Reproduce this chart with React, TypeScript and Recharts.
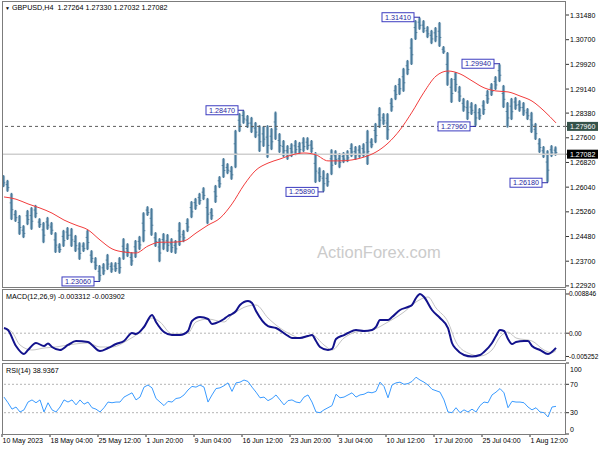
import React from 'react';
import { ComposedChart, Bar, Line, XAxis, YAxis, ReferenceLine, ReferenceDot } from 'recharts';

const FONT = '"Liberation Sans", Arial, sans-serif';

// ---- price bars (H4, one entry per visible column) ----
const highs = [
  1.2642, 1.2627, 1.2586, 1.2532, 1.2516, 1.2484, 1.2532, 1.2541, 1.2548, 1.2506,
  1.2494, 1.2510, 1.2494, 1.2462, 1.2427, 1.2469, 1.2478, 1.2475, 1.2453, 1.2430,
  1.2430, 1.2469, 1.2405, 1.2383, 1.2358, 1.2364, 1.2393, 1.2367, 1.2367, 1.2383,
  1.2443, 1.2427, 1.2399, 1.2437, 1.2450, 1.2525, 1.2544, 1.2538, 1.2462, 1.2443,
  1.2459, 1.2456, 1.2443, 1.2437, 1.2494, 1.2469, 1.2506, 1.2560, 1.2570, 1.2586,
  1.2604, 1.2570, 1.2538, 1.2611, 1.2639, 1.2696, 1.2680, 1.2671, 1.2785, 1.2838,
  1.2847, 1.2832, 1.2826, 1.2810, 1.2800, 1.2797, 1.2800, 1.2791, 1.2843, 1.2775,
  1.2753, 1.2737, 1.2743, 1.2753, 1.2747, 1.2762, 1.2762, 1.2753, 1.2715, 1.2667,
  1.2658, 1.2649, 1.2724, 1.2721, 1.2712, 1.2715, 1.2721, 1.2743, 1.2734, 1.2737,
  1.2743, 1.2785, 1.2759, 1.2807, 1.2857, 1.2838, 1.2838, 1.2886, 1.2927, 1.2949,
  1.2981, 1.3006, 1.3075, 1.3132, 1.3141, 1.3132, 1.3113, 1.3101, 1.3110, 1.3126,
  1.3050, 1.3031, 1.2949, 1.2968, 1.2924, 1.2886, 1.2879, 1.2873, 1.2867, 1.2854,
  1.2879, 1.2911, 1.2933, 1.2955, 1.2994, 1.2927, 1.2873, 1.2886, 1.2889, 1.2879,
  1.2873, 1.2854, 1.2842, 1.2807, 1.2759, 1.2734, 1.2721, 1.2737, 1.2733,
];
const lows = [
  1.2604, 1.2589, 1.2500, 1.2494, 1.2453, 1.2443, 1.2484, 1.2469, 1.2506, 1.2475,
  1.2427, 1.2469, 1.2453, 1.2396, 1.2396, 1.2415, 1.2437, 1.2415, 1.2399, 1.2374,
  1.2399, 1.2405, 1.2364, 1.2342, 1.2306, 1.2326, 1.2342, 1.2333, 1.2336, 1.2330,
  1.2374, 1.2383, 1.2355, 1.2380, 1.2405, 1.2430, 1.2513, 1.2450, 1.2415, 1.2367,
  1.2405, 1.2399, 1.2396, 1.2393, 1.2418, 1.2430, 1.2462, 1.2506, 1.2532, 1.2548,
  1.2563, 1.2487, 1.2500, 1.2554, 1.2601, 1.2633, 1.2645, 1.2627, 1.2664, 1.2778,
  1.2804, 1.2791, 1.2775, 1.2759, 1.2715, 1.2731, 1.2696, 1.2721, 1.2753, 1.2712,
  1.2699, 1.2690, 1.2699, 1.2705, 1.2709, 1.2715, 1.2721, 1.2712, 1.2617, 1.2620,
  1.2589, 1.2605, 1.2642, 1.2674, 1.2664, 1.2680, 1.2683, 1.2699, 1.2690, 1.2696,
  1.2699, 1.2674, 1.2727, 1.2743, 1.2791, 1.2800, 1.2753, 1.2842, 1.2879, 1.2895,
  1.2905, 1.2958, 1.2990, 1.3069, 1.3101, 1.3091, 1.3075, 1.3056, 1.3062, 1.3047,
  1.3025, 1.2924, 1.2870, 1.2905, 1.2873, 1.2842, 1.2816, 1.2832, 1.2796, 1.2816,
  1.2832, 1.2867, 1.2892, 1.2911, 1.2936, 1.2854, 1.2792, 1.2816, 1.2848, 1.2842,
  1.2829, 1.2816, 1.2775, 1.2753, 1.2712, 1.2696, 1.2618, 1.2699, 1.2703,
];

// ---- moving average (read every 3rd bar) ----
const maIdx = [0, 3, 6, 9, 12, 15, 18, 21, 24, 27, 30, 33, 36, 39, 42, 45, 48, 51, 54, 57, 60, 63, 66, 69, 72, 75, 78, 81, 84, 87, 90, 93, 96, 99, 102, 105, 108, 111, 114, 117, 120, 123, 126, 129, 132, 135, 138];
const maVals = [
  1.2573, 1.2566, 1.2551, 1.2538, 1.2522, 1.2500, 1.2484, 1.2469, 1.2437, 1.2409,
  1.2399, 1.2396, 1.2418, 1.2430, 1.2430, 1.2434, 1.2459, 1.2484, 1.2506, 1.2551,
  1.2611, 1.2658, 1.2680, 1.2693, 1.2706, 1.2712, 1.2706, 1.2687, 1.2687, 1.2690,
  1.2699, 1.2715, 1.2743, 1.2785, 1.2841, 1.2904, 1.2955, 1.2971, 1.2962, 1.2940,
  1.2918, 1.2908, 1.2905, 1.2892, 1.2876, 1.2845, 1.2807,
];

// ---- MACD main / signal ----
const macdIdx = [0, 1, 3, 5, 6, 8, 10, 11, 12, 14, 16, 18, 21, 22, 24, 26, 28, 30, 32, 33, 35, 37, 38, 40, 42, 44, 46, 47, 49, 51, 52, 53, 55, 56, 57, 58, 59, 61, 62, 63, 66, 68, 71, 72, 74, 76, 77, 78, 79, 81, 82, 83, 85, 86, 88, 90, 92, 93, 94, 96, 97, 99, 101, 102, 103, 104, 105, 107, 109, 111, 112, 113, 115, 117, 119, 120, 122, 123, 124, 125, 126, 127, 128, 130, 131, 132, 134, 136, 137, 138];
const macdVals = [
  0.00117, 0.00072, -0.00289, -0.00469, -0.00379, -0.00221, -0.00289, -0.00232, -0.00311, -0.00379,
  -0.00266, -0.00176, -0.00199, -0.00266, -0.00402, -0.00334, -0.00244, -0.00176, 0.00005, -0.00018,
  0.00140, 0.00411, 0.00253, 0.00027, -0.00041, -0.00041, 0.00050, 0.00275, 0.00365, 0.00320,
  0.00208, 0.00230, 0.00320, 0.00388, 0.00433, 0.00501, 0.00636, 0.00726, 0.00681, 0.00501,
  0.00162, 0.00117, -0.00063, -0.00108, -0.00108, -0.00063, -0.00041, -0.00176, -0.00311, -0.00379,
  -0.00356, -0.00131, -0.00041, 0.00005, 0.00072, 0.00050, 0.00072, 0.00140, 0.00298, 0.00298,
  0.00365, 0.00523, 0.00591, 0.00636, 0.00794, 0.008846, 0.00817, 0.00523, 0.00343, 0.00117,
  -0.00221, -0.00356, -0.00492, -0.005252, -0.00492, -0.00424, -0.00221, -0.00063, 0.00072, 0.00050,
  -0.00131, -0.00244, -0.00199, -0.00176, -0.00176, -0.00289, -0.00379, -0.00470, -0.00420, -0.003312,
];
const signalIdx = [0, 2, 4, 7, 10, 13, 16, 21, 24, 27, 31, 34, 37, 39, 42, 46, 48, 51, 55, 57, 61, 63, 66, 69, 72, 74, 77, 80, 82, 85, 88, 92, 96, 100, 103, 106, 108, 111, 113, 116, 119, 122, 124, 126, 128, 132, 135, 137, 138];
const signalVals = [
  0.00117, 0.00027, -0.00266, -0.00379, -0.00334, -0.00311, -0.00266, -0.00221, -0.00311, -0.00311,
  -0.00153, 0.00027, 0.00343, 0.00253, -0.00018, 0.00005, 0.00253, 0.00320, 0.00253, 0.00411,
  0.00614, 0.00636, 0.00343, 0.00117, -0.00041, -0.00108, -0.00041, -0.00266, -0.00379, -0.00108,
  0.00027, 0.00072, 0.00253, 0.00478, 0.00704, 0.00817, 0.00569, 0.00253, -0.00199, -0.00447,
  -0.00514, -0.00379, -0.00086, 0.00027, -0.00108, -0.00176, -0.00379, -0.00440, -0.003902,
];

// ---- RSI(14) ----
const rsiVals = [
  52, 44, 35, 38, 31, 34, 45, 48, 44, 48,
  31, 44, 34, 31, 38, 48, 45, 48, 41, 48,
  42, 45, 37, 35, 31, 37, 45, 44, 45, 45,
  52, 55, 58, 48, 52, 66, 69, 65, 50, 45,
  40, 46, 45, 50, 51, 55, 62, 67, 66, 69,
  66, 45, 55, 64, 65, 68, 72, 60, 72, 73,
  76, 74, 66, 59, 51, 52, 47, 50, 55, 48,
  41, 47, 48, 45, 44, 52, 55, 45, 31, 30,
  34, 37, 40, 56, 51, 52, 55, 58, 52, 55,
  56, 59, 58, 60, 73, 67, 51, 69, 72, 73,
  70, 71, 74, 80, 76, 73, 69, 63, 61, 59,
  48, 31, 30, 37, 30, 34, 31, 35, 31, 40,
  45, 44, 55, 59, 64, 58, 37, 46, 45, 45,
  44, 38, 34, 37, 31, 30, 24, 38, 38.9367,
];

// ---- swing labels ----
const swingIdx = [24, 60, 80, 104, 118, 124, 136];
const swingPrice = [1.2306, 1.2847, 1.2589, 1.3141, 1.2796, 1.2994, 1.2618];

// ---- axes ----
const priceTicks = [1.3148, 1.307, 1.2992, 1.2914, 1.2838, 1.276, 1.2682, 1.2604, 1.2526, 1.2448, 1.237, 1.2292];
const levelPrice = 1.2796;
const lastPrice = 1.27082;
const macdTicks = [0.008846, 0, -0.005252];
const rsiTicks = [100, 70, 30, 0];
const rsiLevels = [70, 30];
const timeTickIdx = [-0.5, 11.5, 23.5, 35.5, 47.5, 59.5, 71.5, 83.5, 95.5, 107.5, 119.5, 131.5];
const timeTickLabels = ['10 May 2023', '18 May 04:00', '25 May 12:00', '1 Jun 20:00', '9 Jun 04:00', '16 Jun 12:00', '23 Jun 20:00', '3 Jul 04:00', '10 Jul 12:00', '17 Jul 20:00', '25 Jul 04:00', '1 Aug 12:00'];

const X_DOMAIN: [number, number] = [-0.5, 140.5];
const PRICE_DOMAIN: [number, number] = [1.22853, 1.31891];
const MACD_DOMAIN: [number, number] = [-0.006046, 0.009746];

// ---- tables built from the arrays ----
const priceData: any[] = highs.map((h, i) => ({ i, range: [lows[i], h] }));
maIdx.forEach((idx, k) => { priceData[idx].ma = maVals[k]; });
const macdData: any[] = highs.map((_, i) => ({ i }));
macdIdx.forEach((idx, k) => { macdData[idx].macd = macdVals[k]; });
signalIdx.forEach((idx, k) => { macdData[idx].signal = signalVals[k]; });
const rsiData = rsiVals.map((v, i) => ({ i, rsi: v }));

const BarShape = (p: any) => {
  const { x, y, width, height } = p;
  if (x == null || y == null) return null;
  const top = Math.min(y, y + height);
  const h = Math.max(Math.abs(height), 1);
  const cx = x + width / 2;
  return (
    <g>
      <rect x={cx - 1.6} y={top + 1} width={3.2} height={Math.max(h - 2, 1)} fill="#a7c0d2" />
      <rect x={cx - 0.8} y={top} width={1.6} height={h} fill="#4b7b9b" />
      <rect x={cx - 1.8} y={top + h * 0.35} width={1.2} height={1} fill="#4b7b9b" />
      <rect x={cx + 0.6} y={top + h * 0.6} width={1.2} height={1} fill="#4b7b9b" />
    </g>
  );
};

const SwingLabel = (p: any) => {
  const { cx, cy, text } = p;
  const right = cx - 6;
  return (
    <g>
      <line x1={right} y1={cy} x2={cx} y2={cy} stroke="#2a2aa8" strokeWidth={1} />
      <rect x={right - 32} y={cy - 4.5} width={32} height={9} fill="#ffffff" stroke="#3c3cc0" strokeWidth={1} />
      <text x={right - 16} y={cy + 2.6} textAnchor="middle" fontSize={7.2} fill="#2626a0" fontFamily={FONT}>{text}</text>
    </g>
  );
};

const PriceTick = (p: any) => {
  const { x, y, payload } = p;
  const v = payload.value;
  const label = v.toFixed(5);
  if (v === levelPrice || v === lastPrice) {
    return (
      <g>
        <rect x={x - 3} y={y - 4.5} width={31} height={9} fill={v === levelPrice ? '#35524a' : '#000000'} />
        <text x={x} y={y + 2.6} fontSize={7} fill="#ffffff" fontFamily={FONT}>{label}</text>
      </g>
    );
  }
  return <text x={x} y={y + 2.6} fontSize={7} fill="#000" fontFamily={FONT}>{label}</text>;
};

const MacdTick = (p: any) => {
  const { x, y, payload } = p;
  const v = payload.value;
  const label = v === 0 ? '0.00' : v.toFixed(6);
  return <text x={x - 1} y={y + 2.5} fontSize={6.5} fill="#000" fontFamily={FONT}>{label}</text>;
};

const RsiTick = (p: any) => {
  const { x, y, payload } = p;
  const v = payload.value;
  const dy = v === 100 ? 6 : v === 0 ? -5 : 0;
  return <text x={x} y={y + dy + 2.6} fontSize={7} fill="#000" fontFamily={FONT}>{String(v)}</text>;
};

const TimeTick = (p: any) => {
  const { x, y, payload } = p;
  const k = timeTickIdx.indexOf(payload.value);
  return <text x={x + 0.5} y={y + 5} fontSize={7} fill="#000" fontFamily={FONT} textAnchor="start">{timeTickLabels[k]}</text>;
};

const txt: React.CSSProperties = { position: 'absolute', fontSize: 7.2, lineHeight: '9px', color: '#000', whiteSpace: 'pre', fontFamily: FONT };

export default function App() {
  return (
    <div style={{ position: 'absolute', left: 0, top: 0, width: 600, height: 450, background: '#fff', overflow: 'hidden', fontFamily: FONT }}>
      <div style={{ position: 'absolute', left: 317, top: 244, fontSize: 16.5, lineHeight: '17px', color: '#cbcbcb', whiteSpace: 'nowrap', fontFamily: FONT }}>ActionForex.com</div>

      <div style={{ position: 'absolute', left: 0, top: 0 }}>
        <ComposedChart width={600} height={290} data={priceData} margin={{ top: 2, right: 0, bottom: 2, left: 2 }}>
          <XAxis dataKey="i" type="number" domain={X_DOMAIN} allowDataOverflow hide />
          <YAxis orientation="right" type="number" domain={PRICE_DOMAIN} allowDataOverflow
            ticks={[...priceTicks, levelPrice, lastPrice]} interval={0} width={34}
            axisLine={false} tickLine={{ stroke: '#333' }} tickSize={3} tickMargin={1} tick={<PriceTick />} />
          <ReferenceLine y={levelPrice} stroke="#5c5c5c" strokeDasharray="3 3" />
          <ReferenceLine y={lastPrice} stroke="#cfcfcf" strokeWidth={1.5} />
          <Bar dataKey="range" barSize={3} shape={<BarShape />} isAnimationActive={false} />
          <Line dataKey="ma" type="monotone" stroke="#f23c3c" strokeWidth={1} dot={false} connectNulls isAnimationActive={false} />
          {swingIdx.map((idx, k) => (
            <ReferenceDot key={k} x={idx} y={swingPrice[k]} r={0} ifOverflow="visible"
              shape={(p: any) => <SwingLabel {...p} text={swingPrice[k].toFixed(5)} />} />
          ))}
        </ComposedChart>
      </div>

      <div style={{ position: 'absolute', left: 0, top: 288 }}>
        <ComposedChart width={600} height={74} data={macdData} margin={{ top: 2, right: 0, bottom: 2, left: 2 }}>
          <XAxis dataKey="i" type="number" domain={X_DOMAIN} allowDataOverflow hide />
          <YAxis orientation="right" type="number" domain={MACD_DOMAIN} allowDataOverflow
            ticks={macdTicks} interval={0} width={34} axisLine={false} tickLine={{ stroke: '#333' }}
            tickSize={3} tickMargin={1} tick={<MacdTick />} />
          <ReferenceLine y={0} stroke="#b4b4b4" strokeDasharray="2 2" />
          <Line dataKey="signal" type="monotone" stroke="#c4c4c4" strokeWidth={1} dot={false} connectNulls isAnimationActive={false} />
          <Line dataKey="macd" type="monotone" stroke="#12128c" strokeWidth={2} dot={false} connectNulls isAnimationActive={false} />
        </ComposedChart>
      </div>

      <div style={{ position: 'absolute', left: 0, top: 361 }}>
        <ComposedChart width={600} height={88} data={rsiData} margin={{ top: 2, right: 0, bottom: 1, left: 2 }}>
          <XAxis dataKey="i" type="number" domain={X_DOMAIN} allowDataOverflow ticks={timeTickIdx} interval={0}
            height={14} axisLine={false} tickLine={{ stroke: '#333' }} tickSize={3} tickMargin={1} tick={<TimeTick />} />
          <YAxis orientation="right" type="number" domain={[0, 100]} allowDataOverflow
            ticks={rsiTicks} interval={0} width={34} axisLine={false} tickLine={{ stroke: '#333' }}
            tickSize={3} tickMargin={1} tick={<RsiTick />} />
          {rsiLevels.map((lv) => (
            <ReferenceLine key={lv} y={lv} stroke="#b4b4b4" strokeDasharray="2 2" />
          ))}
          <Line dataKey="rsi" type="linear" stroke="#3a9bff" strokeWidth={1} dot={false} isAnimationActive={false} />
        </ComposedChart>
      </div>

      <svg width={600} height={450} style={{ position: 'absolute', left: 0, top: 0, pointerEvents: 'none' }}>
        <rect x={2.5} y={1.5} width={563} height={286} fill="none" stroke="#7c7c7c" />
        <rect x={2.5} y={289.5} width={563} height={71} fill="none" stroke="#7c7c7c" />
        <rect x={2.5} y={363.5} width={563} height={71} fill="none" stroke="#7c7c7c" />
      </svg>

      <div style={{ ...txt, left: 5, top: 3 }}><span style={{ fontSize: 5 }}>▼</span> GBPUSD,H4  1.27264 1.27330 1.27032 1.27082</div>
      <div style={{ ...txt, left: 6, top: 292 }}>MACD(12,26,9) -0.003312 -0.003902</div>
      <div style={{ ...txt, left: 6, top: 365.5 }}>RSI(14) 38.9367</div>
    </div>
  );
}
